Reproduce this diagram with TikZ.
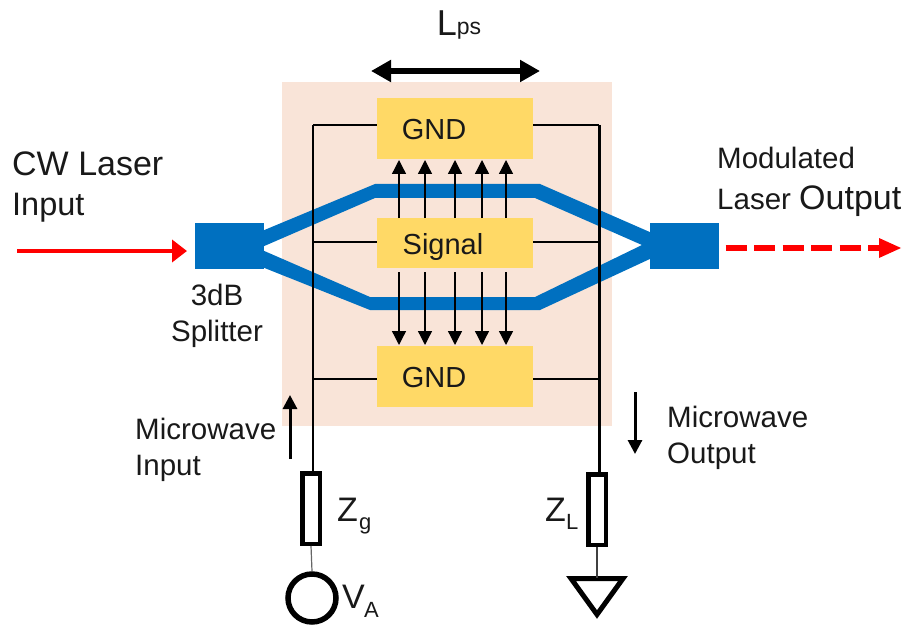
\documentclass[tikz,border=0pt]{standalone}
\usepackage{fontspec}
\setmainfont{Liberation Sans}
\usetikzlibrary{arrows.meta}
\definecolor{bgpeach}{HTML}{F9E4D8}
\definecolor{padyellow}{HTML}{FFD966}
\definecolor{guideblue}{HTML}{0070C0}
\newcommand{\fs}[1]{\fontsize{#1}{#1}\selectfont}
\tikzset{
  x=1pt,y=-1pt,
  pad/.style={fill=padyellow,draw=none,minimum width=156pt,inner sep=0pt,font=\fs{29}},
  splitbox/.style={fill=guideblue,draw=none,minimum width=69pt,minimum height=46pt,inner sep=0pt},
  guide/.style={fill=guideblue,draw=none},
  lab/.style={inner sep=0pt,align=left,text=black!90,font=\fs{29.5}},
  field/.style={line width=1.3pt,-{Triangle[length=14pt,width=14pt]}},
  wireV/.style={line width=1.2pt,black},
  wireH/.style={line width=2.2pt,black},
  wireR/.style={line width=3pt,black},
  res/.style={draw=black,line width=4.5pt,fill=white,minimum width=17.5pt,minimum height=70.5pt,inner sep=0pt},
  flow/.style={line width=3pt,-{Triangle[length=14pt,width=14pt]}}
}
\begin{document}
\begin{tikzpicture}
\useasboundingbox (0,0) rectangle (907,631);
\fill[bgpeach] (282,82) rectangle (612,426);
% coordinates of wires
\coordinate (tl) at (313,125);
\coordinate (tr) at (599,125);
\coordinate (ml) at (313,242);
\coordinate (mr) at (599,242);
\coordinate (bl) at (313,379);
\coordinate (br) at (599,379);
% waveguides
\fill[guide] (262,231) -- (375,184) -- (540,184) -- (652,233) -- (652,245) -- (642,245) -- (535,198) -- (375,198) -- (262,247) -- cycle;
\fill[guide] (262,250) -- (370,297) -- (535,297) -- (642,245) -- (652,245) -- (652,258) -- (540,310) -- (370,310) -- (262,267) -- cycle;
\node[splitbox] (split) at (229.5,246) {};
\node[splitbox] (comb) at (684.5,246) {};
% pads
\node[pad,minimum height=61pt] (gt) at (455,128.5) {};
\node[pad,minimum height=50pt] (sg) at (455,243) {};
\node[pad,minimum height=61pt] (gb) at (455,376.5) {};
\node[lab,font=\fs{29}] at (434,130) {GND};
\node[lab,font=\fs{29}] at (443,247) {Signal};
\node[lab,font=\fs{29}] at (434,378) {GND};
% resistors and source
\node[res] (zg) at (311,508.5) {};
\node[res] (zl) at (597,509.5) {};
\node[circle,draw=black,line width=5.5pt,minimum size=48pt,inner sep=0pt] (va) at (312,598) {};
\coordinate (gtop) at (597,578);
\draw[black,line width=5pt,line join=miter,fill=white] (571,578.5) -- (623,578.5) -- (597,614.5) -- cycle;
% wires
\draw[wireH] (gt.west |- tl) -- (tl);
\draw[wireV] (tl) -- (zg.north -| tl);
\draw[wireH] (sg.west |- ml) -- (ml);
\draw[wireH] (gb.west |- bl) -- (bl);
\draw[wireH] (gt.east |- tr) -- (tr);
\draw[wireR] (tr) -- (zl.north -| tr);
\draw[wireH] (sg.east |- mr) -- (mr);
\draw[wireH] (gb.east |- br) -- (br);
\draw[black!60,line width=1.2pt] (zg.south) -- (va.north);
\draw[black!75,line width=1.2pt] (zl.south) -- (gtop);
% field arrows
\foreach \x in {399,425,455,482,506}{
  \draw[field] (\x,218) -- (\x,160);
  \draw[field] (\x,272) -- (\x,345);
}
% Lps
\draw[line width=6pt,{Triangle[length=20pt,width=21pt]}-{Triangle[length=20pt,width=21pt]}] (371,71) -- (540,71);
\node[lab,font=\fs{36}] at (447,23) {L};
\node[lab,font=\fs{23}] at (469,31) {ps};
% laser arrows
\draw[red,line width=4pt,-{Triangle[length=15pt,width=22pt]}] (17,251) -- (187,251);
\draw[red,line width=6.5pt,dash pattern=on 21.3pt off 7.2pt] (725.6,248) -- (882,248);
\fill[red] (879,238) -- (901,248) -- (879,258) -- cycle;
% microwave arrows
\draw[flow] (290,459) -- (290,395);
\draw[flow] (635,392) -- (635,454);
% labels
\node[lab,anchor=west] at (12,164) {\fs{34}CW Laser};
\node[lab,anchor=west] at (12,208) {\fs{32.5}Input};
\node[lab,anchor=base] at (217,305) {3dB};
\node[lab,anchor=base] at (217,341) {Splitter};
\node[lab,anchor=west] at (717,158) {Modulated};
\node[lab,anchor=west] at (717,201) {Laser {\fs{34}Output}};
\node[lab,anchor=west] at (135,429) {Microwave};
\node[lab,anchor=west] at (135,468) {Input};
\node[lab,anchor=west] at (667,417) {Microwave};
\node[lab,anchor=west] at (667,456) {Output};
\node[lab,anchor=base west] at (337,521) {\fs{34}Z};
\node[lab,anchor=base west] at (359,529) {\fs{22}g};
\node[lab,anchor=base west] at (545,521) {\fs{34}Z};
\node[lab,anchor=base west] at (566,529) {\fs{22}L};
\node[lab,anchor=base west] at (342,608) {\fs{34}V};
\node[lab,anchor=base west] at (364,617) {\fs{22}A};
\end{tikzpicture}
\end{document}
